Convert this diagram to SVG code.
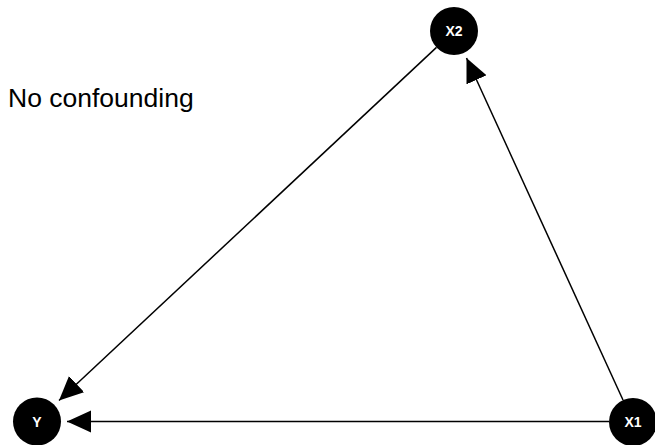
<svg xmlns="http://www.w3.org/2000/svg" width="655" height="445" viewBox="0 0 655 445">
<style>
.node circle{fill:#000}
.node text{fill:#fff;font-family:"Liberation Sans",Arial,sans-serif;font-weight:bold;font-size:14px;text-anchor:middle;dominant-baseline:central}
.edge{stroke:#000;stroke-width:1.5;fill:none;marker-end:url(#ah)}
.title{font-family:"Liberation Sans",Arial,sans-serif;font-size:26.5px;fill:#000}
</style>
<defs>
<marker id="ah" markerUnits="userSpaceOnUse" markerWidth="26" markerHeight="24" refX="24" refY="11" orient="auto">
<path d="M0,0 L24,11 L0,22 Z" fill="#000"/>
</marker>
</defs>
<rect width="655" height="445" fill="#fff"/>
<text class="title" x="8" y="107">No confounding</text>
<g id="connectors">
<line class="edge" x1="609" y1="421.5" x2="67" y2="421.5"/>
<line class="edge" x1="436.5" y1="47.4" x2="59" y2="400.5"/>
<line class="edge" x1="623" y1="400" x2="466.5" y2="58"/>
</g>
<g id="X2" class="node"><circle cx="454" cy="31" r="24"/><text x="454" y="31">X2</text></g>
<g id="Y" class="node"><circle cx="37" cy="421.5" r="24"/><text x="37" y="421.5">Y</text></g>
<g id="X1" class="node"><circle cx="633" cy="422" r="24"/><text x="633" y="422">X1</text></g>
</svg>
